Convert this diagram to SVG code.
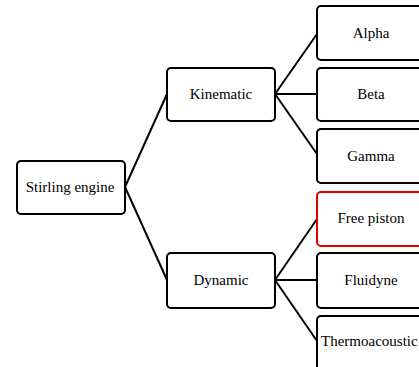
<svg xmlns="http://www.w3.org/2000/svg" width="419" height="367" viewBox="0 0 419 367">
<style>
.box{fill:#fff;stroke:#000;stroke-width:2}
.red{stroke:#e00000}
.lbl{font-family:"Liberation Serif","Times New Roman",serif;font-size:15px;fill:#000;text-anchor:middle}
.ln{stroke:#000;stroke-width:2;fill:none;stroke-linecap:round}
</style>
<rect width="419" height="367" fill="#fff"/>
<g id="connectors">
<line class="ln" x1="125" y1="187" x2="167" y2="94"/>
<line class="ln" x1="125" y1="187" x2="167" y2="280"/>
<line class="ln" x1="275" y1="94" x2="317" y2="34"/>
<line class="ln" x1="275" y1="94" x2="317" y2="94"/>
<line class="ln" x1="275" y1="94" x2="317" y2="154"/>
<line class="ln" x1="275" y1="280" x2="317" y2="219"/>
<line class="ln" x1="275" y1="280" x2="317" y2="280"/>
<line class="ln" x1="275" y1="280" x2="317" y2="341"/>
</g>
<g id="stirling"><rect class="box" x="17" y="161" width="108" height="53" rx="4"/><text class="lbl" x="70" y="192">Stirling engine</text></g>
<g id="kinematic"><rect class="box" x="167" y="68" width="108" height="53" rx="4"/><text class="lbl" x="221" y="99">Kinematic</text></g>
<g id="dynamic"><rect class="box" x="167" y="253" width="108" height="55" rx="4"/><text class="lbl" x="221" y="285">Dynamic</text></g>
<g id="alpha"><rect class="box" x="317" y="6" width="108" height="54" rx="4"/><text class="lbl" x="371" y="38">Alpha</text></g>
<g id="beta"><rect class="box" x="317" y="68" width="108" height="53" rx="4"/><text class="lbl" x="371" y="99">Beta</text></g>
<g id="gamma"><rect class="box" x="317" y="129" width="108" height="54" rx="4"/><text class="lbl" x="371" y="161">Gamma</text></g>
<g id="freepiston"><rect class="box red" x="317" y="192" width="108" height="54" rx="4"/><text class="lbl" x="371" y="223">Free piston</text></g>
<g id="fluidyne"><rect class="box" x="317" y="253" width="108" height="55" rx="4"/><text class="lbl" x="371" y="285">Fluidyne</text></g>
<g id="thermoacoustic"><rect class="box" x="317" y="316" width="108" height="56" rx="4"/><text class="lbl" x="321" y="346" style="text-anchor:start">Thermoacoustic</text></g>
</svg>
